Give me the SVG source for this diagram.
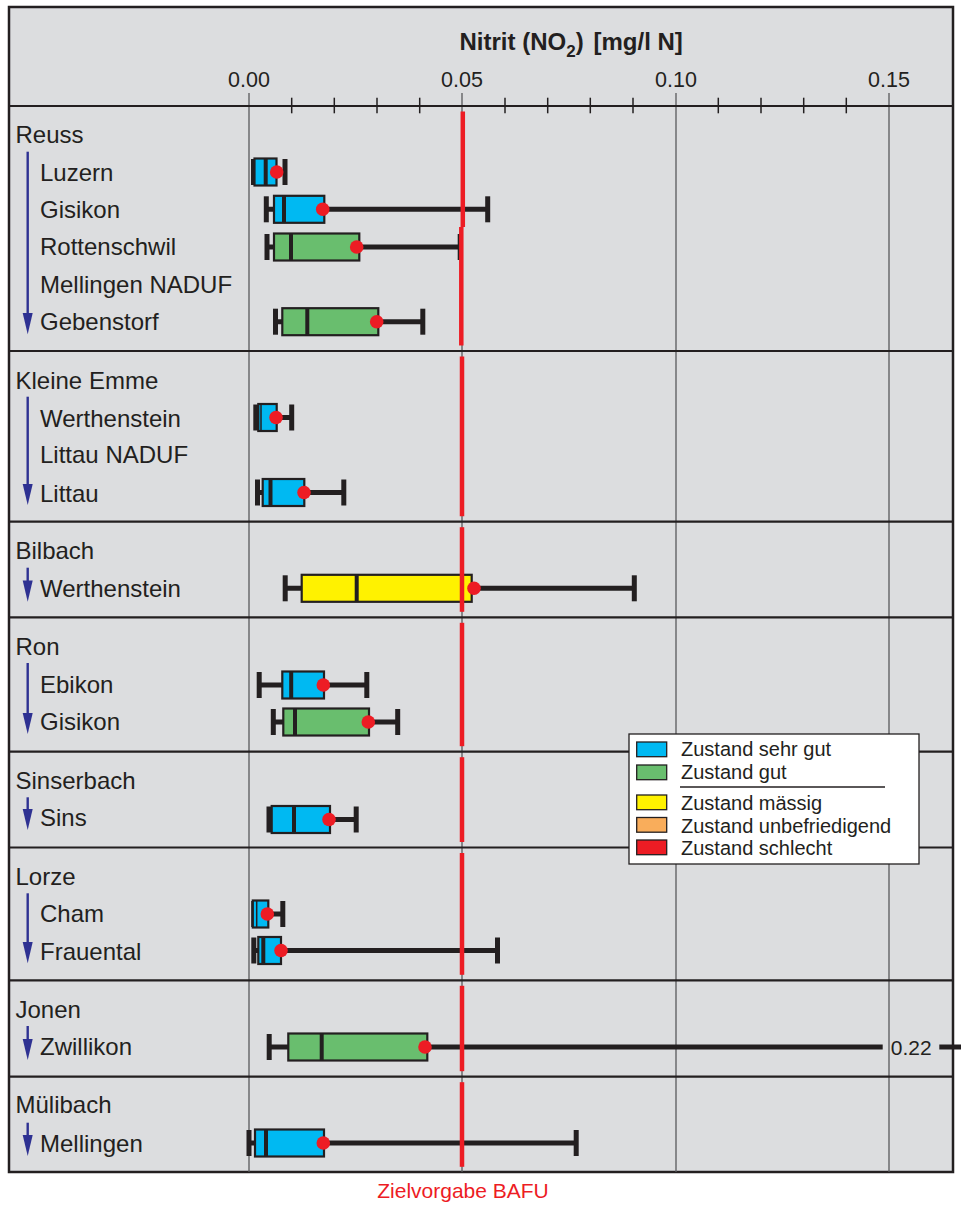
<svg xmlns="http://www.w3.org/2000/svg" width="961" height="1205" viewBox="0 0 961 1205">
<style>
.lbl{font-family:"Liberation Sans",Arial,sans-serif;font-size:24px;fill:#231f20}
.tick{font-family:"Liberation Sans",Arial,sans-serif;font-size:21.5px;fill:#231f20;text-anchor:middle}
.title{font-family:"Liberation Sans",Arial,sans-serif;font-size:24px;font-weight:bold;fill:#231f20}
.leg{font-family:"Liberation Sans",Arial,sans-serif;font-size:20px;fill:#231f20}
.grid{stroke:#58595b;stroke-width:1.3;fill:none}
.sep{stroke:#231f20;stroke-width:2.2;fill:none}
.mt{stroke:#231f20;stroke-width:1.5}
.wh{stroke:#231f20;stroke-width:5;fill:none}
.cap{fill:#231f20}
.box{stroke:#231f20;stroke-width:2.2}
.med{stroke:#231f20;stroke-width:4}
.medt{stroke:#231f20;stroke-width:1.5}
.dot{fill:#ed1c24}
.blue{fill:#00b9f2}
.green{fill:#69be6e}
.yellow{fill:#fff200}
.orange{fill:#f9ad5b}
.red{fill:#ed1c24}
.riv{stroke:#2e3192;stroke-width:2.4}
.head{fill:#2e3192}
.lim{stroke:#ed1c24;stroke-width:4.5}
</style>
<rect x="0" y="0" width="961" height="1205" fill="#ffffff"/>
<g id="frame">
<rect x="9" y="7" width="944" height="1165" fill="#dcdddf" stroke="#231f20" stroke-width="2.5"/>
</g>
<g id="axis">
<line class="grid" x1="249" y1="93" x2="249" y2="1172"/>
<line class="grid" x1="462" y1="93" x2="462" y2="1172"/>
<line class="grid" x1="676" y1="93" x2="676" y2="1172"/>
<line class="grid" x1="889" y1="93" x2="889" y2="1172"/>
<g class="mt">
<line x1="291.7" y1="97.7" x2="291.7" y2="113.3"/>
<line x1="334.3" y1="97.7" x2="334.3" y2="113.3"/>
<line x1="377" y1="97.7" x2="377" y2="113.3"/>
<line x1="419.7" y1="97.7" x2="419.7" y2="113.3"/>
<line x1="505" y1="97.7" x2="505" y2="113.3"/>
<line x1="547.7" y1="97.7" x2="547.7" y2="113.3"/>
<line x1="590.3" y1="97.7" x2="590.3" y2="113.3"/>
<line x1="633" y1="97.7" x2="633" y2="113.3"/>
<line x1="718.3" y1="97.7" x2="718.3" y2="113.3"/>
<line x1="761" y1="97.7" x2="761" y2="113.3"/>
<line x1="803.7" y1="97.7" x2="803.7" y2="113.3"/>
<line x1="846.3" y1="97.7" x2="846.3" y2="113.3"/>
</g>
<text class="title" x="459.5" y="50">Nitrit (NO<tspan font-size="17" dy="7">2</tspan><tspan dy="-7">)</tspan><tspan x="593.5">[mg/l N]</tspan></text>
<text class="tick" x="249" y="87">0.00</text>
<text class="tick" x="462" y="87">0.05</text>
<text class="tick" x="676" y="87">0.10</text>
<text class="tick" x="889" y="87">0.15</text>
</g>
<g id="separators" class="sep">
<line x1="9" y1="106" x2="953" y2="106"/>
<line x1="9" y1="351" x2="953" y2="351"/>
<line x1="9" y1="521.7" x2="953" y2="521.7"/>
<line x1="9" y1="617.3" x2="953" y2="617.3"/>
<line x1="9" y1="751.7" x2="953" y2="751.7"/>
<line x1="9" y1="847.5" x2="953" y2="847.5"/>
<line x1="9" y1="980.3" x2="953" y2="980.3"/>
<line x1="9" y1="1076.7" x2="953" y2="1076.7"/>
</g>

<g id="reuss">
<text class="lbl" x="15.5" y="142.7">Reuss</text>
<line class="riv" x1="27.7" y1="151.7" x2="27.7" y2="316"/>
<polygon class="head" points="22.7,313 32.7,313 27.7,334.3"/>
<text class="lbl" x="40" y="181">Luzern</text>
<text class="lbl" x="40" y="218">Gisikon</text>
<text class="lbl" x="40" y="255">Rottenschwil</text>
<text class="lbl" x="40" y="292.7">Mellingen NADUF</text>
<text class="lbl" x="40" y="330">Gebenstorf</text>
</g>
<g id="kleine-emme">
<text class="lbl" x="15.5" y="389.3">Kleine Emme</text>
<line class="riv" x1="27.7" y1="396.7" x2="27.7" y2="487"/>
<polygon class="head" points="22.7,484 32.7,484 27.7,505"/>
<text class="lbl" x="40" y="426.7">Werthenstein</text>
<text class="lbl" x="40" y="463">Littau NADUF</text>
<text class="lbl" x="40" y="501.7">Littau</text>
</g>
<g id="bilbach">
<text class="lbl" x="15.5" y="559.3">Bilbach</text>
<line class="riv" x1="27.7" y1="567.7" x2="27.7" y2="584"/>
<polygon class="head" points="22.7,580.5 32.7,580.5 27.7,601.7"/>
<text class="lbl" x="40" y="597.3">Werthenstein</text>
</g>
<g id="ron">
<text class="lbl" x="15.5" y="655">Ron</text>
<line class="riv" x1="27.7" y1="663" x2="27.7" y2="716"/>
<polygon class="head" points="22.7,713 32.7,713 27.7,734"/>
<text class="lbl" x="40" y="692.7">Ebikon</text>
<text class="lbl" x="40" y="730">Gisikon</text>
</g>
<g id="sinserbach">
<text class="lbl" x="15.5" y="789.3">Sinserbach</text>
<line class="riv" x1="27.7" y1="797.3" x2="27.7" y2="812"/>
<polygon class="head" points="22.7,809 32.7,809 27.7,830"/>
<text class="lbl" x="40" y="826">Sins</text>
</g>
<g id="lorze">
<text class="lbl" x="15.5" y="885">Lorze</text>
<line class="riv" x1="27.7" y1="893.3" x2="27.7" y2="945"/>
<polygon class="head" points="22.7,942 32.7,942 27.7,963.3"/>
<text class="lbl" x="40" y="921.7">Cham</text>
<text class="lbl" x="40" y="960">Frauental</text>
</g>
<g id="jonen">
<text class="lbl" x="15.5" y="1017.7">Jonen</text>
<line class="riv" x1="27.7" y1="1026" x2="27.7" y2="1042"/>
<polygon class="head" points="22.7,1039 32.7,1039 27.7,1060"/>
<text class="lbl" x="40" y="1055">Zwillikon</text>
</g>
<g id="muelibach">
<text class="lbl" x="15.5" y="1113.3">Mülibach</text>
<line class="riv" x1="27.7" y1="1122.7" x2="27.7" y2="1138"/>
<polygon class="head" points="22.7,1135 32.7,1135 27.7,1156"/>
<text class="lbl" x="40" y="1151.7">Mellingen</text>
</g>

<g id="boxplots">
<g id="bp-luzern">
<line class="wh" x1="253.5" y1="172" x2="285" y2="172"/>
<rect class="cap" x="251" y="159" width="5" height="26"/><rect class="cap" x="282.5" y="159" width="5" height="26"/>
<rect class="box blue" x="254.5" y="158.5" width="22" height="27"/>
<line class="med" x1="265.7" y1="158.5" x2="265.7" y2="185.5"/>
</g>
<g id="bp-gisikon">
<line class="wh" x1="266.3" y1="209.3" x2="487.7" y2="209.3"/>
<rect class="cap" x="263.8" y="196.3" width="5" height="26"/><rect class="cap" x="485.2" y="196.3" width="5" height="26"/>
<rect class="box blue" x="274" y="195.8" width="50.3" height="27"/>
<line class="med" x1="284" y1="195.8" x2="284" y2="222.8"/>
</g>
<g id="bp-rottenschwil">
<line class="wh" x1="267" y1="247" x2="460.2" y2="247"/>
<rect class="cap" x="264.5" y="234" width="5" height="26"/><rect class="cap" x="457.7" y="234" width="5" height="26"/>
<rect class="box green" x="274" y="233.5" width="85.3" height="27"/>
<line class="med" x1="291" y1="233.5" x2="291" y2="260.5"/>
</g>
<g id="bp-gebenstorf">
<line class="wh" x1="275.5" y1="321.7" x2="422.8" y2="321.7"/>
<rect class="cap" x="273" y="308.7" width="5" height="26"/><rect class="cap" x="420.3" y="308.7" width="5" height="26"/>
<rect class="box green" x="282.3" y="308.2" width="96" height="27"/>
<line class="med" x1="307.3" y1="308.2" x2="307.3" y2="335.2"/>
</g>
<g id="bp-werthenstein-ke">
<line class="wh" x1="255.8" y1="417.5" x2="291.7" y2="417.5"/>
<rect class="cap" x="253.3" y="404.5" width="5" height="26"/><rect class="cap" x="289.2" y="404.5" width="5" height="26"/>
<rect class="box blue" x="258.3" y="404" width="18.4" height="27"/>
<line class="medt" x1="261" y1="404" x2="261" y2="431"/>
</g>
<g id="bp-littau">
<line class="wh" x1="257.5" y1="492.5" x2="343.8" y2="492.5"/>
<rect class="cap" x="255" y="479.5" width="5" height="26"/><rect class="cap" x="341.3" y="479.5" width="5" height="26"/>
<rect class="box blue" x="262.7" y="479" width="41.6" height="27"/>
<line class="med" x1="270.5" y1="479" x2="270.5" y2="506"/>
</g>
<g id="bp-werthenstein-bb">
<line class="wh" x1="285.2" y1="588.3" x2="634.3" y2="588.3"/>
<rect class="cap" x="282.7" y="575.3" width="5" height="26"/><rect class="cap" x="631.8" y="575.3" width="5" height="26"/>
<rect class="box yellow" x="301.7" y="574.8" width="170" height="27"/>
<line class="med" x1="356.7" y1="574.8" x2="356.7" y2="601.8"/>
</g>
<g id="bp-ebikon">
<line class="wh" x1="259.2" y1="685" x2="366.8" y2="685"/>
<rect class="cap" x="256.7" y="672" width="5" height="26"/><rect class="cap" x="364.3" y="672" width="5" height="26"/>
<rect class="box blue" x="282.3" y="671.5" width="41.7" height="27"/>
<line class="med" x1="291.2" y1="671.5" x2="291.2" y2="698.5"/>
</g>
<g id="bp-gisikon-ron">
<line class="wh" x1="273.3" y1="722" x2="397.7" y2="722"/>
<rect class="cap" x="270.8" y="709" width="5" height="26"/><rect class="cap" x="395.2" y="709" width="5" height="26"/>
<rect class="box green" x="283.3" y="708.5" width="85.7" height="27"/>
<line class="med" x1="295" y1="708.5" x2="295" y2="735.5"/>
</g>
<g id="bp-sins">
<line class="wh" x1="269" y1="819.5" x2="356.2" y2="819.5"/>
<rect class="cap" x="266.5" y="806.5" width="5" height="26"/><rect class="cap" x="353.7" y="806.5" width="5" height="26"/>
<rect class="box blue" x="271.7" y="806" width="58.3" height="27"/>
<line class="med" x1="294" y1="806" x2="294" y2="833"/>
</g>
<g id="bp-cham">
<line class="wh" x1="253.3" y1="914" x2="282.8" y2="914"/>
<rect class="cap" x="251.2" y="901" width="4.5" height="26"/><rect class="cap" x="280.3" y="901" width="5" height="26"/>
<rect class="box blue" x="252.8" y="900.5" width="15.5" height="27"/>
<line class="medt" x1="256.7" y1="900.5" x2="256.7" y2="927.5"/>
</g>
<g id="bp-frauental">
<line class="wh" x1="253.8" y1="950.5" x2="497.5" y2="950.5"/>
<rect class="cap" x="251.3" y="937.5" width="5" height="26"/><rect class="cap" x="495" y="937.5" width="5" height="26"/>
<rect class="box blue" x="258.3" y="937" width="22.7" height="27"/>
<line class="med" x1="263.3" y1="937" x2="263.3" y2="964"/>
</g>
<g id="bp-zwillikon">
<line class="wh" x1="269.2" y1="1047" x2="882.7" y2="1047"/>
<rect class="cap" x="266.7" y="1034" width="5" height="26"/>
<rect class="box green" x="288.3" y="1033.5" width="139" height="27"/>
<line class="med" x1="321.7" y1="1033.5" x2="321.7" y2="1060.5"/>
</g>
<g id="bp-mellingen">
<line class="wh" x1="249" y1="1143" x2="576.2" y2="1143"/>
<rect class="cap" x="246.5" y="1130" width="5" height="26"/><rect class="cap" x="573.7" y="1130" width="5" height="26"/>
<rect class="box blue" x="255" y="1129.5" width="69" height="27"/>
<line class="med" x1="266" y1="1129.5" x2="266" y2="1156.5"/>
</g>
</g>

<g id="zielvorgabe" class="lim">
<line x1="462.8" y1="111.5" x2="462.8" y2="227"/>
<line x1="461.3" y1="227" x2="461.3" y2="345.5"/>
<line x1="462" y1="356.5" x2="462" y2="516.2"/>
<line x1="462" y1="527.2" x2="462" y2="611.8"/>
<line x1="462" y1="622.8" x2="462" y2="746.2"/>
<line x1="462" y1="757.2" x2="462" y2="842"/>
<line x1="462" y1="853" x2="462" y2="974.8"/>
<line x1="462" y1="985.8" x2="462" y2="1071.2"/>
<line x1="462" y1="1082.2" x2="462" y2="1166.8"/>
</g>

<g id="medians-dots">
<circle class="dot" cx="276.7" cy="172" r="6.8"/>
<circle class="dot" cx="322.7" cy="209.3" r="6.8"/>
<circle class="dot" cx="356.7" cy="247" r="6.8"/>
<circle class="dot" cx="376.7" cy="321.7" r="6.8"/>
<circle class="dot" cx="276" cy="417.5" r="6.8"/>
<circle class="dot" cx="304" cy="492.5" r="6.8"/>
<circle class="dot" cx="474" cy="588.3" r="6.8"/>
<circle class="dot" cx="323.3" cy="685" r="6.8"/>
<circle class="dot" cx="368.3" cy="722" r="6.8"/>
<circle class="dot" cx="329" cy="819.5" r="6.8"/>
<circle class="dot" cx="267.3" cy="914" r="6.8"/>
<circle class="dot" cx="281" cy="950.5" r="6.8"/>
<circle class="dot" cx="425" cy="1047" r="6.8"/>
<circle class="dot" cx="323.3" cy="1143" r="6.8"/>
</g>

<g id="overflow">
<text x="890.8" y="1055" font-family="Liberation Sans, Arial, sans-serif" font-size="21" fill="#231f20">0.22</text>
<line class="wh" x1="939.3" y1="1047" x2="961" y2="1047"/>
</g>

<g id="legend">
<rect x="629" y="734" width="290" height="130" fill="#ffffff" stroke="#231f20" stroke-width="1.3"/>
<rect class="blue" x="636.7" y="742" width="30" height="14.7" stroke="#231f20" stroke-width="1.3"/>
<rect class="green" x="636.7" y="765" width="30" height="14.7" stroke="#231f20" stroke-width="1.3"/>
<rect class="yellow" x="636.7" y="795" width="30" height="14.7" stroke="#231f20" stroke-width="1.3"/>
<rect class="orange" x="636.7" y="817.5" width="30" height="14.7" stroke="#231f20" stroke-width="1.3"/>
<rect class="red" x="636.7" y="840" width="30" height="14.7" stroke="#231f20" stroke-width="1.3"/>
<line x1="680" y1="787" x2="885" y2="787" stroke="#231f20" stroke-width="1.3"/>
<text class="leg" x="681" y="756">Zustand sehr gut</text>
<text class="leg" x="681" y="779">Zustand gut</text>
<text class="leg" x="681" y="810">Zustand mässig</text>
<text class="leg" x="681" y="832.5">Zustand unbefriedigend</text>
<text class="leg" x="681" y="855">Zustand schlecht</text>
</g>

<text x="463" y="1198" font-family="Liberation Sans, Arial, sans-serif" font-size="21" fill="#ed1c24" text-anchor="middle">Zielvorgabe BAFU</text>
</svg>
